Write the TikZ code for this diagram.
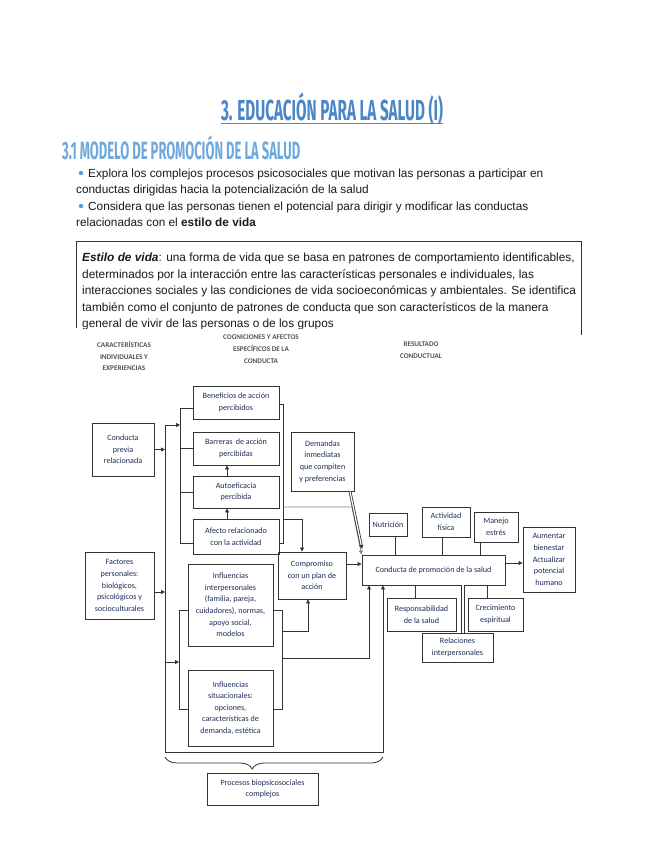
\documentclass[tikz,border=0pt]{standalone}
\usepackage{fontspec}
\usepackage{graphicx}
\setmainfont{Liberation Sans}
\newfontfamily\dgm{Carlito}
\newfontfamily\ttlfont{Fira Sans}
\usetikzlibrary{arrows.meta,decorations.pathreplacing}
\definecolor{ttlblue}{HTML}{4A86C8}
\definecolor{subblue}{HTML}{6FA8DC}
\definecolor{bulblue}{HTML}{5B9BD5}
\definecolor{dtxt}{HTML}{1F2D5A}
\definecolor{lnc}{HTML}{333333}
\definecolor{bodytxt}{HTML}{1A1A1A}
\begin{document}
\begin{tikzpicture}[x=1pt,y=-1pt,
  bx/.style={draw=lnc, line width=0.9pt, inner sep=0pt, align=center,
    font=\dgm\fontsize{8.1}{11.6}\selectfont, text=dtxt},
  hd/.style={align=center, inner sep=0pt, font=\dgm\bfseries\fontsize{7.2}{11.8}\selectfont, text=lnc!85},
  ln/.style={draw=lnc, line width=0.8pt},
  ar/.style={ln, -{Triangle[length=4pt,width=4pt]}},
  body/.style={anchor=base west, inner sep=0pt, text=bodytxt, font=\fontsize{11.8}{13}\selectfont},
  boxt/.style={anchor=base west, inner sep=0pt, text=bodytxt, font=\fontsize{11.85}{13}\selectfont}
]
\useasboundingbox[fill=white] (0,0) rectangle (655,848);

% ---------- title ----------
\node[anchor=base, inner sep=0pt, text=ttlblue] (title) at (332,121)
  {\resizebox{222pt}{\height}{\ttlfont\bfseries\fontsize{29}{29}\selectfont 3. EDUCACIÓN PARA LA SALUD (I)}};
\draw[ttlblue, line width=1pt] ([yshift=-3pt]title.base west) -- ([yshift=-3pt]title.base east);
\node[anchor=base west, inner sep=0pt, text=subblue] (sub) at (62,160)
  {\resizebox{238pt}{\height}{\ttlfont\bfseries\fontsize{25}{25}\selectfont 3.1 MODELO DE PROMOCIÓN DE LA SALUD}};

% ---------- bullets ----------
\fill[bulblue] (81,173) circle (2.2);
\fill[bulblue] (81,206) circle (2.2);
\node[body] (l1) at (88,177) {Explora los complejos procesos psicosociales que motivan las personas a participar en};
\node[body] (l2) at (76,193) {conductas dirigidas hacia la potencialización de la salud};
\node[body] (l3) at (88,210) {Considera que las personas tienen el potencial para dirigir y modificar las conductas};
\node[body] (l4) at (76,226) {relacionadas con el \textbf{estilo de vida}};

% ---------- definition box ----------
\draw[lnc, line width=0.9pt] (76,328) -- (76,241) -- (581,241) -- (581,335);
\begin{scope}
\clip (70,235) rectangle (590,328);
\node[boxt] (d1) at (82,261) {\textbf{\textit{Estilo de vida}}: una forma de vida que se basa en patrones de comportamiento identificables,};
\node[boxt] (d2) at (82,278) {determinados por la interacción entre las características personales e individuales, las};
\node[boxt] (d3) at (82,294) {interacciones sociales y las condiciones de vida socioeconómicas y ambientales. Se identifica};
\node[boxt] (d4) at (82,311) {también como el conjunto de patrones de conducta que son característicos de la manera};
\node[boxt] (d5) at (82,327) {general de vivir de las personas o de los grupos};
\end{scope}

% ---------- headers ----------
\node[hd] (h1) at (124,356) {CARACTERÍSTICAS\\INDIVIDUALES Y\\EXPERIENCIAS};
\node[hd] (h2) at (261,349) {COGNICIONES Y AFECTOS\\ESPECÍFICOS DE LA\\CONDUCTA};
\node[hd] (h3) at (421,350) {RESULTADO\\CONDUCTUAL};

% ---------- boxes ----------
\node[bx, minimum width=62pt, minimum height=53pt] (prev) at (123,449.5) {Conducta\\previa\\relacionada};
\node[bx, minimum width=69pt, minimum height=67pt] (fact) at (119.5,585.5) {Factores\\personales:\\biológicos,\\psicológicos y\\socioculturales};
\node[bx, minimum width=86pt, minimum height=33pt] (benef) at (236,402.5) {Beneficios de acción\\percibidos};
\node[bx, minimum width=86pt, minimum height=33pt] (barr) at (236,448.5) {Barreras\, de acción\\percibidas};
\node[bx, minimum width=86pt, minimum height=32pt] (auto) at (236,492) {Autoeficacia\\percibida};
\node[bx, minimum width=86pt, minimum height=35pt] (afecto) at (236,536.5) {Afecto relacionado\\con la actividad};
\node[bx, minimum width=85pt, minimum height=82pt] (infint) at (230.5,605) {Influencias\\interpersonales\\(familia, pareja,\\cuidadores), normas,\\apoyo social,\\modelos};
\node[bx, minimum width=85pt, minimum height=76pt] (infsit) at (230.5,708) {Influencias\\situacionales:\\opciones,\\características de\\demanda, estética};
\node[bx, minimum width=63pt, minimum height=59pt] (demandas) at (322.5,461.5) {Demandas\\inmediatas\\que compiten\\y preferencias};
\node[bx, minimum width=68pt, minimum height=47pt] (comp) at (312,575.5) {Compromiso\\con un plan de\\acción};
\node[bx, minimum width=143pt, minimum height=30pt] (cond) at (433.5,570) {Conducta de promoción de la salud};
\node[bx, minimum width=52pt, minimum height=65pt] (aum) at (549,559.5) {Aumentar\\bienestar\\Actualizar\\potencial\\humano};
\node[bx, minimum width=38pt, minimum height=23pt] (nut) at (388,524.5) {Nutrición};
\node[bx, minimum width=48pt, minimum height=30pt] (act) at (446,522) {Actividad\\física};
\node[bx, minimum width=44pt, minimum height=30pt] (man) at (496,527) {Manejo\\estrés};
\node[bx, minimum width=69pt, minimum height=33pt] (resp) at (421.5,614.5) {Responsabilidad\\de la salud};
\node[bx, minimum width=55pt, minimum height=33pt] (crec) at (495.5,614.5) {Crecimiento\\espiritual};
\node[bx, minimum width=71pt, minimum height=29pt] (rel) at (457.5,647.5) {Relaciones\\interpersonales};
\node[bx, minimum width=111pt, minimum height=32pt] (proc) at (262.5,789) {Procesos biopsicosociales\\complejos};

% ---------- bus and brackets ----------
\coordinate (bTop) at (165,425);
\coordinate (bBot) at (165,752);
\coordinate (brA1) at (180,408);
\coordinate (brA2) at (180,543);
\coordinate (brB1) at (283,404);
\coordinate (brB2) at (283,543);
\coordinate (brC1) at (179,610);
\coordinate (brC2) at (179,709);
\coordinate (brD1) at (282,610);
\coordinate (brD2) at (282,709);

\draw[ar] (prev.east) -- (prev.east -| bTop);
\draw[ar] (fact.east |- 0,592) -- (bTop |- 0,592);
\draw[ln] (bTop) -- (bBot);
\draw[ar] (bTop) -- (brA1 |- bTop);
\draw[ar] (bBot) -| (cond.south -| 383,0);

% upper group
\draw[ln] (brA1) -- (brA2);
\draw[ln] (brA1) -- (brA1 -| benef.west);
\draw[ln] (barr.west -| brA1) -- (barr.west);
\draw[ln] (auto.west -| brA1) -- (auto.west);
\draw[ln] (brA2) -- (brA2 -| afecto.west);
\draw[ln] (brB1 -| benef.east) -- (brB1) -- (brB2) -- (brB2 -| afecto.east);
\draw[ar] (afecto.north -| 227,0) -- (auto.south -| 227,0);
\draw[ar] (auto.north -| 227,0) -- (barr.south -| 227,0);
\draw[ar] (brB1 |- 0,519) -| (comp.north -| 302,0);
\draw[ar, draw=lnc!60] (brB1 |- 0,507) -- (352,507) -- (cond.north west);
\draw[ln, double=white, double distance=1.2pt, -{Triangle[length=4pt,width=4pt]}] (demandas.south -| 350,0) -- (362,549);

% lower group
\draw[ar] (bTop |- 0,662) -- (brC1 |- 0,662);
\draw[ln] (brC1) -- (brC2);
\draw[ln] (brC1) -- (brC1 -| infint.west);
\draw[ln] (brC2) -- (brC2 -| infsit.west);
\draw[ln] (brD1 -| infint.east) -- (brD1) -- (brD2) -- (brD2 -| infsit.east);
\draw[ar] (brD1 |- 0,631) -| (comp.south -| 308,0);
\draw[ar] (brD1 |- 0,658) -| (cond.south -| 369,0);

% outcome
\draw[ar] (comp.east |- 0,564) -- (cond.west |- 0,564);
\draw[ar] (cond.east |- 0,563) -- (aum.west |- 0,563);
\draw[ln] (nut.south -| 395,0) -- (cond.north -| 395,0);
\draw[ln] (act.south -| 442,0) -- (cond.north -| 442,0);
\draw[ln] (man.south -| 480,0) -- (cond.north -| 480,0);
\draw[ln] (cond.south -| 415,0) -- (resp.north -| 415,0);
\draw[ln] (cond.south -| 487,0) -- (crec.north -| 487,0);
\draw[ln, double=white, double distance=1.5pt] (cond.south -| 463,0) -- (rel.north -| 463,0);

% brace
\draw[ln, decorate, decoration={brace, amplitude=12pt, aspect=0.6}] (383,757) -- (165,757);
\end{tikzpicture}
\end{document}
